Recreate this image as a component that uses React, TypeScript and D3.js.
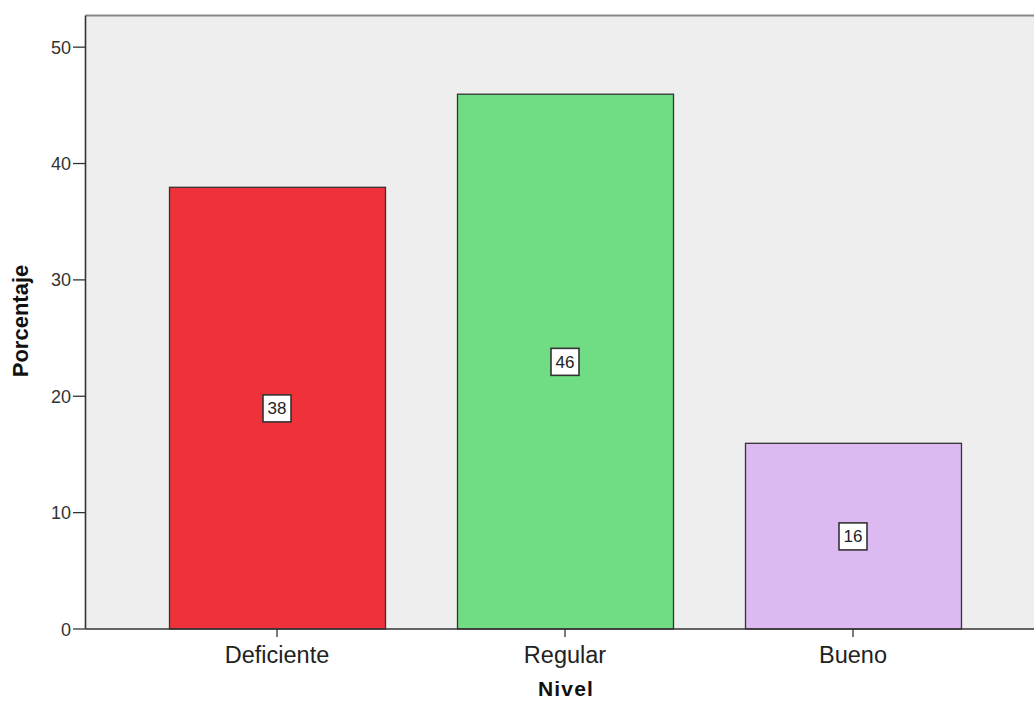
import React from "react";
import * as d3 from "d3";

const categories = ["Deficiente", "Regular", "Bueno"];
const values = [38, 46, 16];
const colors = ["#EF3239", "#70DC84", "#DDB9F1"];
const yTicks = [0, 10, 20, 30, 40, 50];

const W = 1034;
const H = 703;
const left = 85.5;
const top = 15.5;
const bottom = 629;

export default function App() {
  const y = d3.scaleLinear().domain([0, 52.72]).range([bottom, top]);
  const x = d3
    .scaleBand<string>()
    .domain(categories)
    .range([85, 1045])
    .paddingInner(0.25)
    .paddingOuter(0.2917);
  const bw = x.bandwidth();
  const font = "Arial, 'Liberation Sans', sans-serif";

  return (
    <svg
      width={W}
      height={H}
      style={{ position: "absolute", left: 0, top: 0, background: "#fff" }}
      fontFamily={font}
    >
      <rect x={left} y={top} width={W - left + 2} height={bottom - top} fill="#EEEEEE" />
      <line x1={left} x2={W} y1={top} y2={top} stroke="#888" strokeWidth={2} />
      {categories.map((c, i) => {
        const x0 = x(c)!;
        const yv = y(values[i]);
        const cx = x0 + bw / 2;
        const cy = y(values[i] / 2);
        return (
          <g key={c}>
            <rect
              x={x0 + 0.5}
              y={yv + 0.5}
              width={bw}
              height={bottom - yv - 0.5}
              fill={colors[i]}
              stroke="#333"
              strokeWidth={1.3}
            />
            <rect x={cx - 14} y={cy - 13} width={28} height={27} fill="#fff" stroke="#333" strokeWidth={1.6} />
            <text x={cx} y={cy + 6.5} textAnchor="middle" fontSize={17} fill="#222">
              {values[i]}
            </text>
            <line x1={cx} x2={cx} y1={bottom} y2={bottom + 8} stroke="#333" strokeWidth={1.3} />
            <text x={cx} y={663} textAnchor="middle" fontSize={23.5} fill="#222">
              {c}
            </text>
          </g>
        );
      })}
      <line x1={left} x2={left} y1={top} y2={bottom} stroke="#333" strokeWidth={1.6} />
      <line x1={left} x2={W} y1={bottom} y2={bottom} stroke="#333" strokeWidth={1.6} />
      {yTicks.map((t) => (
        <g key={t}>
          <line x1={73} x2={left} y1={y(t)} y2={y(t)} stroke="#333" strokeWidth={1.3} />
          <text x={71} y={y(t) + 6.5} textAnchor="end" fontSize={18} fill="#333">
            {t}
          </text>
        </g>
      ))}
      <text x={566} y={696} textAnchor="middle" fontSize={21} fontWeight="bold" letterSpacing={1.2} fill="#111">
        Nivel
      </text>
      <text
        transform={`translate(28, 321) rotate(-90)`}
        textAnchor="middle"
        fontSize={22}
        fontWeight="bold"
        fill="#111"
      >
        Porcentaje
      </text>
    </svg>
  );
}
